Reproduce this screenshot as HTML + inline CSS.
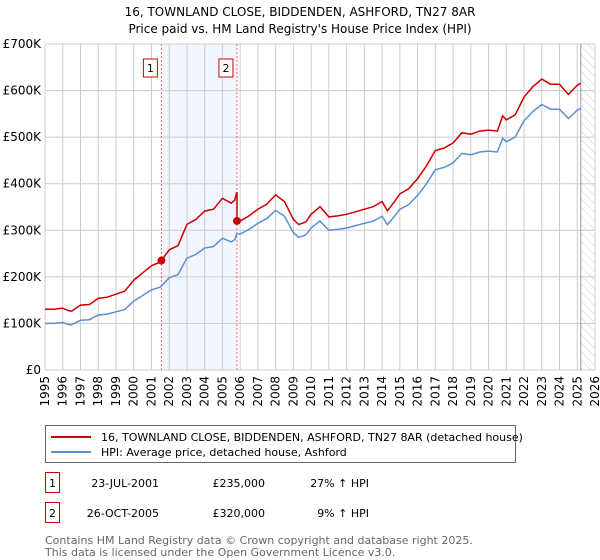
<!DOCTYPE html>
<html><head><meta charset="utf-8"><style>
body{margin:0;background:#fff;font-family:"DejaVu Sans","Liberation Sans",sans-serif;}
#wrap{position:relative;width:600px;height:560px;overflow:hidden;}
</style></head><body>
<div id="wrap">
<svg id="chart" width="600" height="560" style="position:absolute;left:0;top:0"></svg>
</div>
<script>
const hpiYears=[1995,1995.5,1996,1996.3,1996.5,1997,1997.5,1998,1998.5,1999,1999.5,2000,2000.5,2001,2001.5,2002,2002.5,2003,2003.5,2004,2004.5,2005,2005.5,2005.7,2005.8,2006,2006.5,2007,2007.5,2008,2008.5,2009,2009.3,2009.7,2010,2010.5,2011,2011.5,2012,2012.5,2013,2013.5,2014,2014.3,2014.7,2015,2015.5,2016,2016.5,2017,2017.5,2018,2018.5,2019,2019.5,2020,2020.5,2020.8,2021,2021.5,2022,2022.5,2023,2023.5,2024,2024.5,2025,2025.2];
const hpiValues=[100,100,102,98,97,107,108,118,120,125,130,148,160,172,178,198,205,240,248,262,265,283,275,280,292,292,302,315,325,343,330,295,285,290,305,320,300,302,305,310,315,320,330,312,330,345,355,375,400,430,435,445,465,462,468,470,468,498,490,500,535,555,570,560,560,540,558,562];
const sales=[{label:"1",year:2001.56,price:235},{label:"2",year:2005.82,price:320}];
const yTicks=[0,100,200,300,400,500,600,700];
const yTickLabels=["£0","£100K","£200K","£300K","£400K","£500K","£600K","£700K"];
const xTicks=[1995,1996,1997,1998,1999,2000,2001,2002,2003,2004,2005,2006,2007,2008,2009,2010,2011,2012,2013,2014,2015,2016,2017,2018,2019,2020,2021,2022,2023,2024,2025,2026];

const svg=document.getElementById('chart');const NS='http://www.w3.org/2000/svg';
const X0=45,X1=595,Y0=370,Y1=44;
const xs=y=>X0+(y-1995)/(2026-1995)*(X1-X0);
const ys=v=>Y0-v/700*(Y0-Y1);
function el(t,a,p){const e=document.createElementNS(NS,t);for(const k in a)e.setAttribute(k,a[k]);(p||svg).appendChild(e);return e;}
function hpiAt(y){for(let i=1;i<hpiYears.length;i++){if(y<=hpiYears[i]){const t=(y-hpiYears[i-1])/(hpiYears[i]-hpiYears[i-1]);return hpiValues[i-1]+t*(hpiValues[i]-hpiValues[i-1]);}}return hpiValues[hpiValues.length-1];}
let t=el('text',{x:300,y:16,'text-anchor':'middle','font-size':12,fill:'#000'});t.textContent='16, TOWNLAND CLOSE, BIDDENDEN, ASHFORD, TN27 8AR';

t=el('text',{x:300,y:33,'text-anchor':'middle','font-size':12,fill:'#000'});t.textContent="Price paid vs. HM Land Registry's House Price Index (HPI)";

let r=el('rect',{x:xs(sales[0].year),y:Y1,width:xs(sales[1].year)-xs(sales[0].year),height:Y0-Y1,fill:'#eef3fc',opacity:0.8});

const defs=el('defs',{});const pat=el('pattern',{id:'hatch',width:6,height:6,patternUnits:'userSpaceOnUse',patternTransform:'rotate(-45)'},defs);
el('line',{x1:0,y1:0,x2:0,y2:6,stroke:'#ccc','stroke-width':1},pat);
r=el('rect',{x:xs(2025.2),y:Y1,width:X1-xs(2025.2),height:Y0-Y1,fill:'url(#hatch)'});

yTicks.forEach((v,i)=>{const l=el('line',{x1:X0,x2:X1,y1:ys(v),y2:ys(v),stroke:'#ccc'});
const tx=el('text',{x:X0-4,y:ys(v)+4,'text-anchor':'end','font-size':12,fill:'#000'});tx.textContent=yTickLabels[i];});
xTicks.forEach(y=>{const l=el('line',{x1:xs(y),x2:xs(y),y1:Y1,y2:Y0,stroke:'#ccc'});
const tx=el('text',{x:0,y:0,'text-anchor':'end','font-size':12,fill:'#000',transform:`translate(${xs(y)+4},${Y0+6}) rotate(-90)`});tx.textContent=y;});
let l=el('line',{x1:xs(2025.2),x2:xs(2025.2),y1:Y1,y2:Y0,stroke:'#999'});
sales.forEach(s=>{const d=el('line',{x1:xs(s.year),x2:xs(s.year),y1:Y1,y2:Y0,stroke:'#e66','stroke-dasharray':'2,2'});
const b=el('rect',{x:xs(s.year)-18,y:59,width:14,height:18,fill:'#fff',stroke:'#c00'});
const tx=el('text',{x:xs(s.year)-11,y:72,'text-anchor':'middle','font-size':11});tx.textContent=s.label;});
let hp='',rp='';
const f1=sales[0].price/hpiAt(sales[0].year),f2=sales[1].price/hpiAt(sales[1].year);
hpiYears.forEach((y,i)=>{hp+=(i?'L':'M')+xs(y).toFixed(1)+','+ys(hpiValues[i]).toFixed(1);
const f=y<sales[1].year?f1:f2;
rp+=(i?'L':'M')+xs(y).toFixed(1)+','+ys(hpiValues[i]*f).toFixed(1);
if(i<hpiYears.length-1&&hpiYears[i]<sales[1].year&&hpiYears[i+1]>sales[1].year){rp+='L'+xs(sales[1].year).toFixed(1)+','+ys(hpiValues[i]*f1).toFixed(1)+'L'+xs(sales[1].year).toFixed(1)+','+ys(sales[1].price).toFixed(1);}});
let p=el('path',{d:hp,fill:'none',stroke:'#5b8fd4','stroke-width':1.5});
p=el('path',{d:rp,fill:'none',stroke:'#cc0000','stroke-width':1.5});
sales.forEach(s=>{const c=el('circle',{cx:xs(s.year),cy:ys(s.price),r:4,fill:'#cc0000'});});
r=el('rect',{x:45.5,y:425.5,width:470,height:37,fill:'#fff',stroke:'#666'});
l=el('line',{x1:51,x2:91,y1:437,y2:437,stroke:'#cc0000','stroke-width':2});
t=el('text',{x:101,y:441,'font-size':11});t.textContent='16, TOWNLAND CLOSE, BIDDENDEN, ASHFORD, TN27 8AR (detached house)';
l=el('line',{x1:51,x2:91,y1:452,y2:452,stroke:'#5b8fd4','stroke-width':2});
t=el('text',{x:101,y:456,'font-size':11});t.textContent='HPI: Average price, detached house, Ashford';
const rows=[["1","23-JUL-2001","£235,000","27% ↑ HPI",483],["2","26-OCT-2005","£320,000","9% ↑ HPI",513]];
rows.forEach(rw=>{const b=el('rect',{x:45.5,y:rw[4]-10.5,width:14,height:20,fill:'#fff',stroke:'#c00'});
let tx=el('text',{x:52.5,y:rw[4]+4,'text-anchor':'middle','font-size':11});tx.textContent=rw[0];
tx=el('text',{x:159,y:rw[4]+4,'text-anchor':'end','font-size':11});tx.textContent=rw[1];
tx=el('text',{x:265,y:rw[4]+4,'text-anchor':'end','font-size':11});tx.textContent=rw[2];
tx=el('text',{x:369,y:rw[4]+4,'text-anchor':'end','font-size':11});tx.textContent=rw[3];});
t=el('text',{x:45,y:544,'font-size':11,fill:'#666'});t.textContent='Contains HM Land Registry data © Crown copyright and database right 2025.';
t=el('text',{x:45,y:556,'font-size':11,fill:'#666'});t.textContent='This data is licensed under the Open Government Licence v3.0.';
</script>
</body></html>
